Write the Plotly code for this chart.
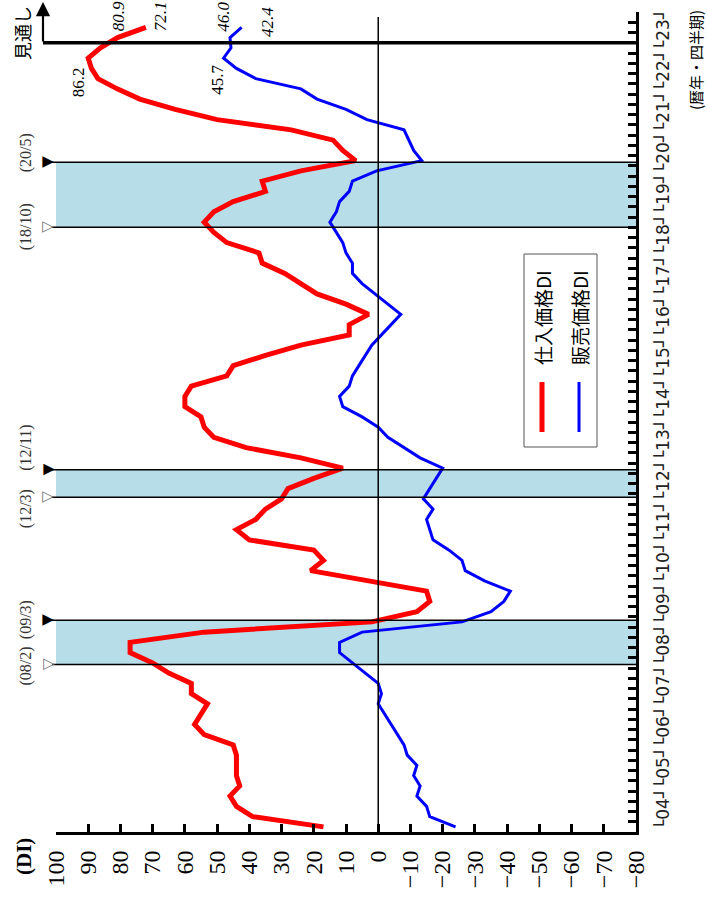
import plotly.graph_objects as go

# ---------------- data ----------------
year_labels = ['04', '05', '06', '07', '08', '09', '10', '11', '12', '13',
               '14', '15', '16', '17', '18', '19', '20', '21', '22', '23']

# quarterly, 2004Q1 .. 2023Q3 (last two = 見通し)
purchase_di = [17, 39, 44, 46, 43, 44, 44, 44, 45, 54,
               57, 55, 53, 58, 58, 65, 70, 77, 77, 54,
               2, -12, -16, -15, 3, 21, 17, 20, 40, 44,
               38, 35, 30, 28, 20, 11, 24, 41, 51, 54,
               55, 60, 60, 58, 47, 45, 35, 24, 9, 9,
               3, 10, 19, 24, 29, 36, 37, 47, 51, 54,
               51, 45, 35, 36, 24, 7, 11, 14, 27, 50,
               63, 74, 81, 87, 89, 90, 86.2, 80.9, 72.1]

selling_di = [-24, -16, -15, -12, -13, -11, -12, -9, -8, -6,
              -4, -2, 0, -1, 0, 4, 8, 12, 12, 5,
              -26, -35, -39, -41, -33, -27, -26, -22, -17, -16,
              -15, -17, -14, -16, -18, -20, -13, -8, -3, 0,
              5, 11, 12, 9, 8, 6, 4, 2, -1, -4,
              -7, -3, 1, 5, 8, 8, 10, 11, 13, 15,
              13, 12, 9, 8, 0.5, -13.5, -11, -9.5, -8, 3.5,
              10, 19, 24, 38, 44, 48, 45.7, 46.0, 42.4]

forecast_start = 77   # index of first 見通し quarter

di_ticks = [100, 90, 80, 70, 60, 50, 40, 30, 20, 10, 0,
            -10, -20, -30, -40, -50, -60, -70, -80]

# (start, end, start label, end label, start label shift, end label shift)
recessions = [("2008-02", "2009-03", "(08/2)", "(09/3)", -2, 0),
              ("2012-03", "2012-11", "(12/3)", "(12/11)", -12, 22),
              ("2018-10", "2020-05", "(18/10)", "(20/5)", 0, 9)]

# labels on last points: (series, index, text, italic, xshift, yshift)
value_labels = [("p", 76, "86.2", False, -22, -34),
                ("p", 77, "80.9", True, 1, 21),
                ("p", 78, "72.1", True, 14, 11),
                ("s", 76, "45.7", False, -13, -32),
                ("s", 77, "46.0", True, -6, 21),
                ("s", 78, "42.4", True, 26, 5)]

# ---------------- geometry helpers ----------------
W, H = 707, 897
ML, MR, MT, MB = 56, 71, 12, 65
PW, PH = W - ML - MR, H - MT - MB


def px_x(px):
    return (px - ML) / PW


def px_y(py):
    return (H - MB - py) / PH


def month_pos(s):
    y, m = s.split("-")
    return (int(y) - 2004) * 4 + (int(m) - 1) / 3


yq = [i + 0.5 for i in range(len(purchase_di))]

SERIF = "Liberation Serif"
JP = "Noto Sans CJK JP"


def ann(**kw):
    base = dict(showarrow=False, xanchor="center", yanchor="middle",
                textangle=-90)
    base.update(kw)
    return base


fig = go.Figure()

fig.add_trace(go.Scatter(x=purchase_di, y=yq, mode="lines",
                         line=dict(color="#ff0000", width=5),
                         name="仕入価格DI", showlegend=False))
fig.add_trace(go.Scatter(x=selling_di, y=yq, mode="lines",
                         line=dict(color="#0000ff", width=3),
                         name="販売価格DI", showlegend=False))

shapes = []
annotations = []

# recession bands
for start, end, lab0, lab1, sh0, sh1 in recessions:
    y0, y1 = month_pos(start), month_pos(end)
    shapes.append(dict(type="rect", xref="paper", yref="y", x0=0, x1=1,
                       y0=y0, y1=y1, fillcolor="#b7dde8", line_width=0,
                       layer="below"))
    for yy, lab, tri, sh in ((y0, lab0, "▽", sh0), (y1, lab1, "▼", sh1)):
        shapes.append(dict(type="line", xref="paper", yref="y",
                           x0=px_x(52), x1=1, y0=yy, y1=yy,
                           line=dict(color="black", width=1.5)))
        annotations.append(ann(xref="paper", yref="y", x=px_x(47.5), y=yy,
                               text=tri,
                               font=dict(family="DejaVu Sans", size=15,
                                         color="black" if tri == "▼" else "#777")))
        annotations.append(ann(xref="paper", yref="y", x=px_x(26), y=yy,
                               yshift=sh, text=lab,
                               font=dict(family=SERIF, size=16, color="#333")))

# zero line
shapes.append(dict(type="line", xref="x", yref="paper", x0=0, x1=0,
                   y0=0, y1=px_y(17), line=dict(color="black", width=1.5)))

# actual / forecast separator
shapes.append(dict(type="line", xref="paper", yref="y", x0=px_x(43), x1=1,
                   y0=forecast_start, y1=forecast_start,
                   line=dict(color="black", width=3.5)))

# 見通し arrow
annotations.append(dict(xref="paper", yref="paper", x=px_x(43), y=px_y(2),
                        text="", showarrow=True, axref="pixel", ayref="pixel",
                        ax=0, ay=41, arrowhead=2, arrowsize=1.3,
                        arrowwidth=2.2, arrowcolor="black"))
annotations.append(ann(xref="paper", yref="paper", x=px_x(22), y=px_y(33),
                       text="見通し",
                       font=dict(family=JP, size=18, color="black")))

# value labels
for ser, idx, txt, ital, xs, ys in value_labels:
    val = purchase_di[idx] if ser == "p" else selling_di[idx]
    t = f"<i>{txt}</i>" if ital else txt
    annotations.append(ann(xref="x", yref="y", x=val, y=yq[idx], text=t,
                           xshift=xs, yshift=ys,
                           font=dict(family=SERIF, size=17, color="black")))

# (DI) label
annotations.append(ann(xref="paper", yref="paper", x=px_x(24), y=px_y(857),
                       text="<b>(DI)</b>",
                       font=dict(family=SERIF, size=21, color="black")))

# (暦年・四半期)
annotations.append(ann(xref="paper", yref="paper", x=px_x(695), y=px_y(60),
                       text="(暦年・四半期)",
                       font=dict(family=JP, size=15, color="black")))

# custom legend (rotated)
shapes.append(dict(type="rect", xref="paper", yref="paper",
                   x0=px_x(524), x1=px_x(597), y0=px_y(447), y1=px_y(254),
                   line=dict(color="#555", width=1), fillcolor="white"))
shapes.append(dict(type="line", xref="paper", yref="paper",
                   x0=px_x(542), x1=px_x(542), y0=px_y(432), y1=px_y(382),
                   line=dict(color="#ff0000", width=5)))
shapes.append(dict(type="line", xref="paper", yref="paper",
                   x0=px_x(579), x1=px_x(579), y0=px_y(432), y1=px_y(382),
                   line=dict(color="#0000ff", width=3)))
annotations.append(ann(xref="paper", yref="paper", x=px_x(542), y=px_y(318),
                       text="仕入価格DI",
                       font=dict(family=JP, size=19, color="black")))
annotations.append(ann(xref="paper", yref="paper", x=px_x(579), y=px_y(318),
                       text="販売価格DI",
                       font=dict(family=JP, size=19, color="black")))

# time axis ticks / labels
n_q = len(year_labels) * 4
tickvals_y = list(range(0, n_q + 1))
ticktext_y = []
for k in tickvals_y:
    if k % 4 == 2:
        ticktext_y.append("└" + year_labels[k // 4] + "┘")
    else:
        ticktext_y.append("")

fig.update_layout(
    width=W, height=H,
    margin=dict(l=ML, r=MR, t=MT, b=MB, autoexpand=False),
    paper_bgcolor="white", plot_bgcolor="white",
    showlegend=False,
    shapes=shapes, annotations=annotations,
    xaxis=dict(range=[100, -80], tickvals=di_ticks,
               ticktext=[str(v).replace("-", "−") for v in di_ticks],
               tickangle=-90, ticks="inside", ticklen=8, tickwidth=2.5,
               tickcolor="black", showline=True, linewidth=3,
               linecolor="black", showgrid=False, zeroline=False,
               ticklabelstandoff=6,
               tickfont=dict(family=SERIF, size=24, color="black")),
    yaxis=dict(range=[0, n_q], side="right", tickvals=tickvals_y,
               ticktext=ticktext_y, tickangle=-90, ticks="inside",
               ticklen=8, tickwidth=2.5, tickcolor="black", showline=True,
               linewidth=3, linecolor="black", showgrid=False,
               zeroline=False, ticklabelstandoff=10,
               tickfont=dict(family="DejaVu Sans", size=17, color="#222")),
)

fig.write_html("out.html",
               config={"displayModeBar": False},
               post_script="document.body.style.margin='0';"
                           "document.body.style.overflow='hidden';")
